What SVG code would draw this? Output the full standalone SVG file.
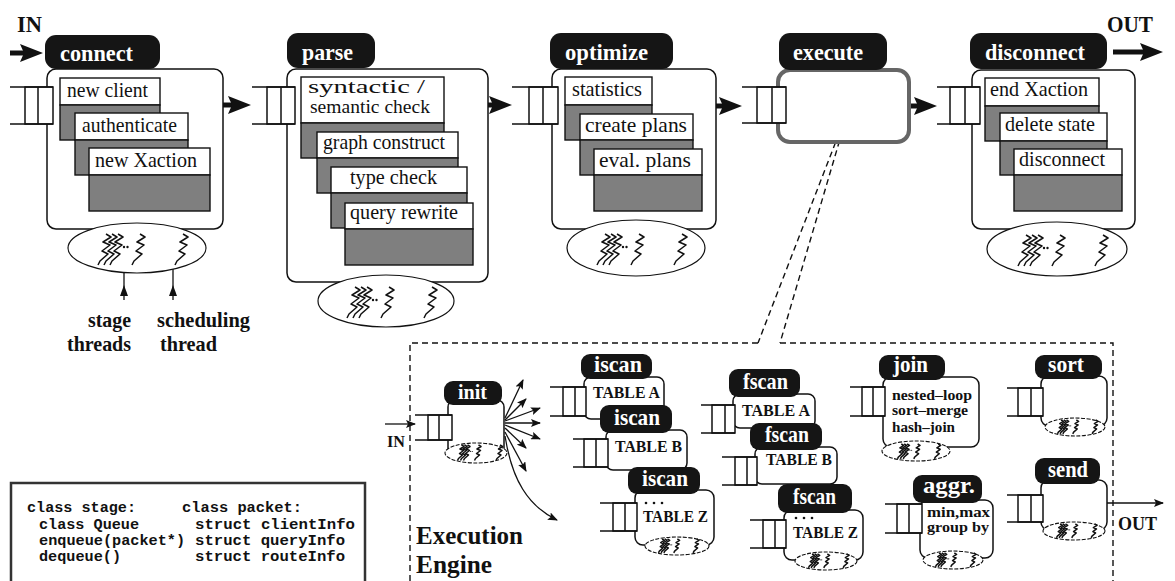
<svg xmlns="http://www.w3.org/2000/svg" xmlns:xlink="http://www.w3.org/1999/xlink" width="1175" height="581" viewBox="0 0 1175 581">
  <style>
    .lbl { fill: #151515; }
    .lt { font-family: "Liberation Serif", serif; font-weight: bold; fill: #ffffff; }
    .box { fill: #ffffff; stroke: #111; stroke-width: 1.5; }
    .sub { fill: #ffffff; stroke: #111; stroke-width: 1.4; }
    .sh { fill: #7f7f7f; stroke: #111; stroke-width: 1.4; }
    .tx { font-family: "Liberation Serif", serif; fill: #111; }
    .b { font-weight: bold; }
    .q { fill: #ffffff; stroke: #111; stroke-width: 1.5; }
    .ql { stroke: #111; stroke-width: 1.5; fill: none; }
    .ell { fill: #ffffff; stroke: #111; stroke-width: 1.2; }
    .ells { fill: #ffffff; stroke: #111; stroke-width: 1.1; stroke-dasharray: 4 1.5; }
    .thr { fill: none; stroke: #111; stroke-width: 1.5; stroke-linejoin: round; vector-effect: non-scaling-stroke; }
    .bd { fill: #ffffff; stroke: #111; stroke-width: 1.5; }
    .big { stroke: #111; stroke-width: 5; fill: none; }
    .thin { stroke: #111; stroke-width: 1.3; fill: none; }
    .dash { stroke: #111; stroke-width: 1.4; fill: none; stroke-dasharray: 6 4; }
    .code { font-family: "Liberation Mono", monospace; font-weight: bold; font-size: 14px; fill: #111; }
  </style>
  <defs>
    <marker id="bigHead" markerUnits="userSpaceOnUse" markerWidth="24" markerHeight="18" refX="4" refY="9" orient="auto">
      <path d="M0,0 L23,9 L0,18 L4,9 z" fill="#111"/>
    </marker>
    <marker id="smallHead" markerUnits="userSpaceOnUse" markerWidth="11" markerHeight="8" refX="9" refY="4" orient="auto">
      <path d="M0,0 L10,4 L0,8 L2,4 z" fill="#111"/>
    </marker>
    <!-- one thread: a slanted squiggle -->
    <g id="th"><path class="thr" d="M9 0 L14 3 L6 8 L13 11 L5 17 L11 20 L3 27 L1 31"/></g>
    <!-- thread pool: several stage threads, then the scheduling thread -->
    <g id="threads">
      <use xlink:href="#th"/>
      <use xlink:href="#th" x="6"/>
      <use xlink:href="#th" x="12"/>
      <circle cx="27" cy="13" r="1.2" fill="#111"/>
      <circle cx="30.5" cy="13" r="1.2" fill="#111"/>
      <use xlink:href="#th" x="34"/>
      <use xlink:href="#th" x="77"/>
    </g>
  </defs>

  <rect x="0" y="0" width="1175" height="581" fill="#ffffff"/>

  <!-- top-level captions -->
  <text class="tx b" x="17" y="32" font-size="23" textLength="25" lengthAdjust="spacingAndGlyphs">IN</text>
  <text class="tx b" x="1107" y="32" font-size="23" textLength="46" lengthAdjust="spacingAndGlyphs">OUT</text>

  <!-- connectors -->
  <g id="connectors">
    <line class="big" x1="10" y1="53" x2="24" y2="53" marker-end="url(#bigHead)"/>
    <line class="big" x1="203" y1="105" x2="232" y2="105" marker-end="url(#bigHead)"/>
    <line class="big" x1="467" y1="105" x2="493" y2="105" marker-end="url(#bigHead)"/>
    <line class="big" x1="693" y1="106" x2="723" y2="106" marker-end="url(#bigHead)"/>
    <line class="big" x1="887" y1="106" x2="918" y2="106" marker-end="url(#bigHead)"/>
    <line class="big" x1="1113" y1="52" x2="1144" y2="52" marker-end="url(#bigHead)"/>

    <!-- pointers to the stage threads and scheduling thread -->
    <line class="thin" x1="124" y1="272" x2="124" y2="300"/>
    <polygon points="124,285 120,296 128,296" fill="#111"/>
    <line class="thin" x1="173" y1="269" x2="173" y2="300"/>
    <polygon points="173,285 169,296 177,296" fill="#111"/>

    <!-- zoom lines from execute to the execution engine -->
    <line class="dash" x1="850" y1="105" x2="758" y2="343"/>
    <line class="dash" x1="848" y1="112" x2="780" y2="343"/>

    <!-- execution engine border -->
    <path class="dash" d="M410 581 L410 343 L758 343 M780 343 L1113 343 L1113 581"/>

    <!-- engine input / output -->
    <line class="thin" x1="385" y1="424" x2="415" y2="424" marker-end="url(#smallHead)"/>
    <line class="thin" x1="1098" y1="503" x2="1163" y2="503" marker-end="url(#smallHead)"/>

    <!-- init fan-out -->
    <line class="thin" x1="505" y1="418" x2="523" y2="380" marker-end="url(#smallHead)"/>
    <line class="thin" x1="505" y1="420" x2="526" y2="399" marker-end="url(#smallHead)"/>
    <line class="thin" x1="505" y1="421" x2="540" y2="408" marker-end="url(#smallHead)"/>
    <line class="thin" x1="505" y1="423" x2="540" y2="423" marker-end="url(#smallHead)"/>
    <line class="thin" x1="505" y1="425" x2="540" y2="439" marker-end="url(#smallHead)"/>
    <line class="thin" x1="505" y1="428" x2="526" y2="448" marker-end="url(#smallHead)"/>
    <line class="thin" x1="505" y1="432" x2="526" y2="471" marker-end="url(#smallHead)"/>
    <path class="thin" d="M505 436 C512 480 528 506 557 520" marker-end="url(#smallHead)"/>
  </g>

  <!-- stage: connect -->
  <g id="connect">
    <rect class="box" x="47" y="69" width="176" height="160" rx="9"/>
    <rect class="lbl" x="45" y="35" width="115" height="34" rx="11"/>
    <text class="lt" x="60" y="61" font-size="24" textLength="73" lengthAdjust="spacingAndGlyphs">connect</text>
    <rect class="q" x="25" y="87" width="28" height="37"/>
    <path class="ql" d="M10 87 H53 M10 124 H53 M38 87 V124"/>
    <rect class="sub" x="60" y="78" width="100" height="27"/>
    <text class="tx" x="67" y="97" font-size="21" textLength="81" lengthAdjust="spacingAndGlyphs">new client</text>
    <rect class="sh" x="60" y="105" width="100" height="35"/>
    <rect class="sub" x="75" y="113" width="113" height="27"/>
    <text class="tx" x="82" y="132" font-size="21" textLength="95" lengthAdjust="spacingAndGlyphs">authenticate</text>
    <rect class="sh" x="75" y="140" width="113" height="35"/>
    <rect class="sub" x="89" y="148" width="121" height="27"/>
    <text class="tx" x="95" y="167" font-size="21" textLength="102" lengthAdjust="spacingAndGlyphs">new Xaction</text>
    <rect class="sh" x="89" y="175" width="121" height="36"/>
    <ellipse class="ell" cx="137" cy="248" rx="69" ry="25"/>
    <use xlink:href="#threads" x="97" y="234"/>
  </g>

  <g id="legend-threads">
    <text class="tx b" x="88" y="327" font-size="21" textLength="43" lengthAdjust="spacingAndGlyphs">stage</text>
    <text class="tx b" x="67" y="351" font-size="21" textLength="64" lengthAdjust="spacingAndGlyphs">threads</text>
    <text class="tx b" x="157" y="327" font-size="21" textLength="93" lengthAdjust="spacingAndGlyphs">scheduling</text>
    <text class="tx b" x="160" y="351" font-size="21" textLength="57" lengthAdjust="spacingAndGlyphs">thread</text>
  </g>

  <!-- stage: parse -->
  <g id="parse">
    <rect class="box" x="287" y="69" width="201" height="213" rx="9"/>
    <rect class="lbl" x="287" y="33" width="88" height="35" rx="11"/>
    <text class="lt" x="302" y="60" font-size="24" textLength="51" lengthAdjust="spacingAndGlyphs">parse</text>
    <rect class="q" x="267" y="87" width="28" height="37"/>
    <path class="ql" d="M252 87 H295 M252 124 H295 M281 87 V124"/>
    <rect class="sub" x="301" y="77" width="143" height="46"/>
    <text class="tx" x="308" y="93" font-size="18" textLength="117" lengthAdjust="spacingAndGlyphs">syntactic /</text>
    <text class="tx" x="310" y="113" font-size="19" textLength="120" lengthAdjust="spacingAndGlyphs">semantic check</text>
    <rect class="sh" x="301" y="123" width="143" height="35"/>
    <rect class="sub" x="317" y="132" width="141" height="26"/>
    <text class="tx" x="323" y="149" font-size="21" textLength="122" lengthAdjust="spacingAndGlyphs">graph construct</text>
    <rect class="sh" x="317" y="158" width="141" height="35"/>
    <rect class="sub" x="331" y="167" width="136" height="26"/>
    <text class="tx" x="350" y="184" font-size="21" textLength="87" lengthAdjust="spacingAndGlyphs">type check</text>
    <rect class="sh" x="331" y="193" width="136" height="35"/>
    <rect class="sub" x="345" y="203" width="128" height="26"/>
    <text class="tx" x="350" y="219" font-size="21" textLength="108" lengthAdjust="spacingAndGlyphs">query rewrite</text>
    <rect class="sh" x="345" y="229" width="128" height="36"/>
    <ellipse class="ell" cx="386" cy="301" rx="68" ry="26"/>
    <use xlink:href="#threads" x="346" y="287"/>
  </g>

  <!-- stage: optimize -->
  <g id="optimize">
    <rect class="box" x="552" y="69" width="164" height="160" rx="9"/>
    <rect class="lbl" x="550" y="33" width="123" height="36" rx="11"/>
    <text class="lt" x="565" y="60" font-size="24" textLength="83" lengthAdjust="spacingAndGlyphs">optimize</text>
    <rect class="q" x="529" y="87" width="29" height="37"/>
    <path class="ql" d="M512 87 H558 M512 124 H558 M543 87 V124"/>
    <rect class="sub" x="565" y="77" width="87" height="28"/>
    <text class="tx" x="572" y="96" font-size="21" textLength="70" lengthAdjust="spacingAndGlyphs">statistics</text>
    <rect class="sh" x="565" y="105" width="87" height="35"/>
    <rect class="sub" x="580" y="114" width="113" height="26"/>
    <text class="tx" x="585" y="132" font-size="21" textLength="102" lengthAdjust="spacingAndGlyphs">create plans</text>
    <rect class="sh" x="580" y="140" width="113" height="35"/>
    <rect class="sub" x="594" y="149" width="108" height="26"/>
    <text class="tx" x="599" y="167" font-size="21" textLength="92" lengthAdjust="spacingAndGlyphs">eval. plans</text>
    <rect class="sh" x="594" y="175" width="108" height="36"/>
    <ellipse class="ell" cx="636" cy="248" rx="69" ry="28"/>
    <use xlink:href="#threads" x="596" y="234"/>
  </g>

  <!-- stage: execute -->
  <g id="execute">
    <rect x="778" y="70" width="131" height="72" rx="12" fill="#ffffff" stroke="#666" stroke-width="4"/>
    <rect class="lbl" x="779" y="33" width="108" height="37" rx="11"/>
    <text class="lt" x="793" y="60" font-size="24" textLength="70" lengthAdjust="spacingAndGlyphs">execute</text>
    <rect class="q" x="757" y="87" width="29" height="36"/>
    <path class="ql" d="M742 87 H786 M742 123 H786 M772 87 V123"/>
  </g>

  <!-- stage: disconnect -->
  <g id="disconnect">
    <rect class="box" x="972" y="70" width="163" height="159" rx="9"/>
    <rect class="lbl" x="970" y="33" width="137" height="36" rx="11"/>
    <text class="lt" x="985" y="60" font-size="24" textLength="100" lengthAdjust="spacingAndGlyphs">disconnect</text>
    <rect class="q" x="950" y="87" width="30" height="37"/>
    <path class="ql" d="M937 87 H980 M937 124 H980 M965 87 V124"/>
    <rect class="sub" x="985" y="78" width="114" height="28"/>
    <text class="tx" x="990" y="96" font-size="21" textLength="98" lengthAdjust="spacingAndGlyphs">end Xaction</text>
    <rect class="sh" x="985" y="106" width="114" height="35"/>
    <rect class="sub" x="1000" y="113" width="107" height="28"/>
    <text class="tx" x="1005" y="131" font-size="21" textLength="90" lengthAdjust="spacingAndGlyphs">delete state</text>
    <rect class="sh" x="1000" y="141" width="107" height="34"/>
    <rect class="sub" x="1014" y="149" width="108" height="26"/>
    <text class="tx" x="1019" y="166" font-size="21" textLength="86" lengthAdjust="spacingAndGlyphs">disconnect</text>
    <rect class="sh" x="1014" y="175" width="108" height="36"/>
    <ellipse class="ell" cx="1057" cy="249" rx="70" ry="27"/>
    <use xlink:href="#threads" x="1017" y="235"/>
  </g>

  <!-- class listing -->
  <g id="code">
    <rect x="11" y="483" width="354" height="130" fill="#ffffff" stroke="#333" stroke-width="2.5"/>
    <text class="code" x="27" y="512" textLength="109" lengthAdjust="spacingAndGlyphs">class stage:</text>
    <text class="code" x="39" y="529" textLength="100" lengthAdjust="spacingAndGlyphs">class Queue</text>
    <text class="code" x="39" y="545" textLength="146" lengthAdjust="spacingAndGlyphs">enqueue(packet*)</text>
    <text class="code" x="39" y="561" textLength="82" lengthAdjust="spacingAndGlyphs">dequeue()</text>
    <text class="code" x="182" y="512" textLength="120" lengthAdjust="spacingAndGlyphs">class packet:</text>
    <text class="code" x="195" y="529" textLength="160" lengthAdjust="spacingAndGlyphs">struct clientInfo</text>
    <text class="code" x="195" y="545" textLength="150" lengthAdjust="spacingAndGlyphs">struct queryInfo</text>
    <text class="code" x="195" y="561" textLength="150" lengthAdjust="spacingAndGlyphs">struct routeInfo</text>
  </g>

  <!-- execution engine -->
  <g id="engine-title">
    <text class="tx b" x="416" y="544" font-size="24.5" fill="#222" textLength="107" lengthAdjust="spacingAndGlyphs">Execution</text>
    <text class="tx b" x="416" y="573" font-size="24.5" fill="#222" textLength="76" lengthAdjust="spacingAndGlyphs">Engine</text>
    <text class="tx b" x="387" y="447" font-size="17" textLength="18" lengthAdjust="spacingAndGlyphs">IN</text>
    <text class="tx b" x="1118" y="530" font-size="18" textLength="39" lengthAdjust="spacingAndGlyphs">OUT</text>
  </g>

  <g id="init">
    <rect class="bd" x="448" y="400" width="56" height="55" rx="7"/>
    <rect class="lbl" x="444" y="381" width="58" height="24" rx="9"/>
    <text class="lt" x="458" y="399" font-size="20" textLength="29" lengthAdjust="spacingAndGlyphs">init</text>
    <rect class="q" x="428" y="415" width="24" height="25"/>
    <path class="ql" d="M415 415 H452 M415 440 H452 M439 415 V440"/>
    <ellipse class="ells" cx="476" cy="453" rx="31" ry="10"/>
    <use xlink:href="#threads" transform="translate(457 445) scale(0.5)"/>
  </g>

  <g id="iscan-a">
    <rect class="bd" x="584" y="377" width="80" height="42" rx="7"/>
    <rect class="lbl" x="581" y="354" width="71" height="25" rx="9"/>
    <text class="lt" x="594" y="372" font-size="24" textLength="48" lengthAdjust="spacingAndGlyphs">iscan</text>
    <rect class="q" x="563" y="387" width="23" height="29"/>
    <path class="ql" d="M550 387 H586 M550 416 H586 M575 387 V416"/>
    <text class="tx b" x="593" y="398" font-size="17" textLength="67" lengthAdjust="spacingAndGlyphs">TABLE A</text>
  </g>

  <g id="iscan-b">
    <rect class="bd" x="606" y="430" width="81" height="40" rx="7"/>
    <rect class="lbl" x="600" y="405" width="72" height="28" rx="9"/>
    <text class="lt" x="614" y="425" font-size="24" textLength="46" lengthAdjust="spacingAndGlyphs">iscan</text>
    <rect class="q" x="584" y="439" width="24" height="28"/>
    <path class="ql" d="M573 439 H608 M573 467 H608 M596 439 V467"/>
    <text class="tx b" x="615" y="452" font-size="17" textLength="67" lengthAdjust="spacingAndGlyphs">TABLE B</text>
  </g>

  <g id="iscan-z">
    <rect class="bd" x="635" y="490" width="79" height="55" rx="8"/>
    <rect class="lbl" x="628" y="467" width="72" height="27" rx="9"/>
    <text class="lt" x="642" y="486" font-size="24" textLength="46" lengthAdjust="spacingAndGlyphs">iscan</text>
    <rect class="q" x="613" y="503" width="24" height="28"/>
    <path class="ql" d="M600 503 H637 M600 531 H637 M625 503 V531"/>
    <circle cx="646" cy="503" r="1.3" fill="#111"/>
    <circle cx="654" cy="503" r="1.3" fill="#111"/>
    <circle cx="662" cy="503" r="1.3" fill="#111"/>
    <text class="tx b" x="643" y="522" font-size="17" textLength="65" lengthAdjust="spacingAndGlyphs">TABLE Z</text>
    <ellipse class="ells" cx="677" cy="546" rx="32" ry="9"/>
    <use xlink:href="#threads" transform="translate(658 539) scale(0.45)"/>
  </g>

  <g id="fscan-a">
    <rect class="bd" x="733" y="394" width="82" height="34" rx="7"/>
    <rect class="lbl" x="729" y="369" width="71" height="28" rx="9"/>
    <text class="lt" x="743" y="389" font-size="24" textLength="45" lengthAdjust="spacingAndGlyphs">fscan</text>
    <rect class="q" x="712" y="405" width="23" height="28"/>
    <path class="ql" d="M701 405 H735 M701 433 H735 M725 405 V433"/>
    <text class="tx b" x="742" y="416" font-size="17" textLength="68" lengthAdjust="spacingAndGlyphs">TABLE A</text>
  </g>

  <g id="fscan-b">
    <rect class="bd" x="755" y="447" width="82" height="37" rx="7"/>
    <rect class="lbl" x="750" y="423" width="72" height="27" rx="9"/>
    <text class="lt" x="765" y="442" font-size="24" textLength="44" lengthAdjust="spacingAndGlyphs">fscan</text>
    <rect class="q" x="735" y="457" width="22" height="28"/>
    <path class="ql" d="M722 457 H757 M722 485 H757 M747 457 V485"/>
    <text class="tx b" x="766" y="465" font-size="17" textLength="66" lengthAdjust="spacingAndGlyphs">TABLE B</text>
  </g>

  <g id="fscan-z">
    <rect class="bd" x="784" y="510" width="79" height="50" rx="8"/>
    <rect class="lbl" x="778" y="484" width="74" height="29" rx="9"/>
    <text class="lt" x="793" y="504" font-size="24" textLength="43" lengthAdjust="spacingAndGlyphs">fscan</text>
    <rect class="q" x="763" y="520" width="23" height="28"/>
    <path class="ql" d="M750 520 H786 M750 548 H786 M775 520 V548"/>
    <circle cx="796" cy="518" r="1.3" fill="#111"/>
    <circle cx="804" cy="518" r="1.3" fill="#111"/>
    <circle cx="812" cy="518" r="1.3" fill="#111"/>
    <text class="tx b" x="793" y="538" font-size="17" textLength="65" lengthAdjust="spacingAndGlyphs">TABLE Z</text>
    <ellipse class="ells" cx="826" cy="561" rx="31" ry="9"/>
    <use xlink:href="#threads" transform="translate(808 554) scale(0.45)"/>
  </g>

  <g id="join">
    <rect class="bd" x="883" y="377" width="96" height="70" rx="8"/>
    <rect class="lbl" x="879" y="355" width="66" height="25" rx="9"/>
    <text class="lt" x="893" y="372" font-size="24" textLength="35" lengthAdjust="spacingAndGlyphs">join</text>
    <rect class="q" x="862" y="387" width="23" height="29"/>
    <path class="ql" d="M850 387 H885 M850 416 H885 M873 387 V416"/>
    <text class="tx b" x="892" y="400" font-size="15" textLength="80" lengthAdjust="spacingAndGlyphs">nested–loop</text>
    <text class="tx b" x="892" y="415" font-size="15" textLength="76" lengthAdjust="spacingAndGlyphs">sort–merge</text>
    <text class="tx b" x="892" y="432" font-size="15" textLength="63" lengthAdjust="spacingAndGlyphs">hash–join</text>
    <ellipse class="ells" cx="916" cy="451" rx="34" ry="10"/>
    <use xlink:href="#threads" transform="translate(897 444) scale(0.48)"/>
  </g>

  <g id="sort">
    <rect class="bd" x="1041" y="376" width="66" height="50" rx="8"/>
    <rect class="lbl" x="1035" y="355" width="67" height="24" rx="9"/>
    <text class="lt" x="1048" y="372" font-size="23" textLength="36" lengthAdjust="spacingAndGlyphs">sort</text>
    <rect class="q" x="1018" y="388" width="25" height="28"/>
    <path class="ql" d="M1007 388 H1043 M1007 416 H1043 M1031 388 V416"/>
    <ellipse class="ells" cx="1075" cy="427" rx="30" ry="9"/>
    <use xlink:href="#threads" transform="translate(1057 420) scale(0.45)"/>
  </g>

  <g id="aggr">
    <rect class="bd" x="920" y="500" width="73" height="58" rx="8"/>
    <rect class="lbl" x="913" y="475" width="69" height="28" rx="9"/>
    <text class="lt" x="923" y="493" font-size="24" textLength="52" lengthAdjust="spacingAndGlyphs">aggr.</text>
    <rect class="q" x="897" y="504" width="25" height="29"/>
    <path class="ql" d="M885 504 H922 M885 533 H922 M909 504 V533"/>
    <text class="tx b" x="927" y="517" font-size="15" textLength="63" lengthAdjust="spacingAndGlyphs">min,max</text>
    <text class="tx b" x="927" y="532" font-size="15" textLength="62" lengthAdjust="spacingAndGlyphs">group by</text>
    <ellipse class="ells" cx="953" cy="560" rx="30" ry="9"/>
    <use xlink:href="#threads" transform="translate(935 553) scale(0.45)"/>
  </g>

  <g id="send">
    <rect class="bd" x="1041" y="480" width="66" height="50" rx="8"/>
    <rect class="lbl" x="1035" y="458" width="65" height="26" rx="9"/>
    <text class="lt" x="1048" y="477" font-size="23" textLength="40" lengthAdjust="spacingAndGlyphs">send</text>
    <rect class="q" x="1018" y="495" width="25" height="27"/>
    <path class="ql" d="M1007 495 H1043 M1007 522 H1043 M1031 495 V522"/>
    <ellipse class="ells" cx="1074" cy="531" rx="31" ry="9"/>
    <use xlink:href="#threads" transform="translate(1056 524) scale(0.45)"/>
  </g>
</svg>
